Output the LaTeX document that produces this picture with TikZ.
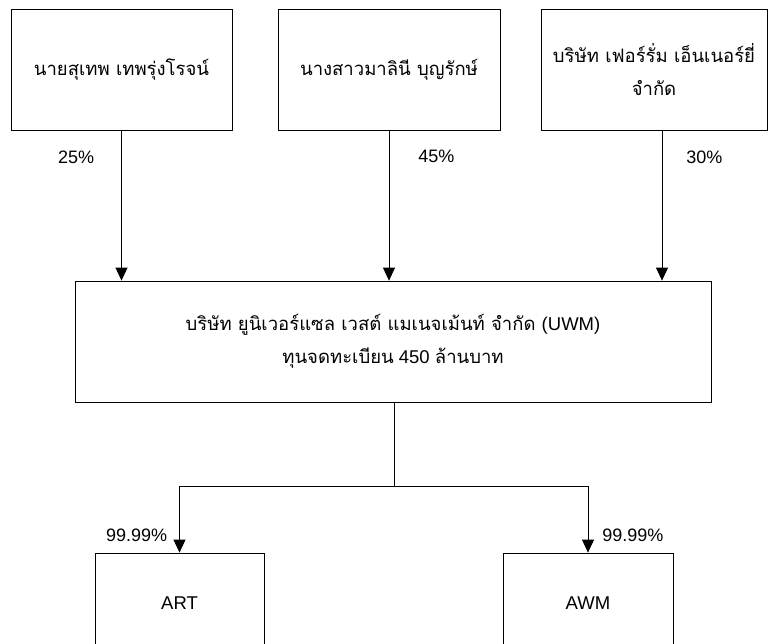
\documentclass[tikz,border=0pt]{standalone}
\usepackage{fontspec}
\setmainfont{Liberation Sans}
\newfontfamily\thai[Script=Thai]{Loma}
\usetikzlibrary{positioning, arrows.meta}

\tikzset{
  box/.style={draw, line width=0.8pt, inner sep=0pt, align=center,
    font=\fontsize{18.5}{33}\selectfont},
  pct/.style={font=\fontsize{18}{20}\selectfont, inner sep=0pt},
}

\begin{document}
\begin{tikzpicture}[x=1pt, y=-1pt, >={Triangle[length=13pt,width=12pt]}]
\useasboundingbox (0,0) rectangle (768,643);

\node[box, minimum width=221pt, minimum height=121pt] (p1) at (121.5,69.5) {\thai นายสุเทพ เทพรุ่งโรจน์};
\node[box, minimum width=222pt, minimum height=121pt] (p2) at (389,69.5) {\thai นางสาวมาลินี บุญรักษ์};
\node[box, minimum width=226pt, minimum height=121pt] (p3) at (654,69.5) {\thai บริษัท เฟอร์รั่ม เอ็นเนอร์ยี่\\\thai จำกัด};

\node[box, minimum width=636pt, minimum height=121pt] (uwm) at (393,341.5)
  {\thai บริษัท ยูนิเวอร์แซล เวสต์ แมเนจเม้นท์ จำกัด {\rmfamily(UWM)}\\
   {\thai ทุนจดทะเบียน} 450 {\thai ล้านบาท}};

\coordinate (fork) at (394,486);

\node[box, minimum width=169pt, minimum height=100pt] (art) at (179.5,603) {ART};
\node[box, minimum width=170pt, minimum height=100pt] (awm) at (588,603) {AWM};

\draw[line width=0.8pt]
    (p1.south) edge[->] node[pct, pos=0.18, left=27pt] {25\%} (p1.south |- uwm.north)
    (p2.south) edge[->] node[pct, pos=0.17, right=29pt] {45\%} (p2.south |- uwm.north)
    ([xshift=8pt]p3.south) edge[->] node[pct, pos=0.18, right=24pt] {30\%} ([xshift=8pt]p3.south |- uwm.north)
    (uwm.south -| fork) -- (fork)
    ;
\draw[line width=0.8pt, ->] (fork) -| (art.north) node[pct, pos=0.873, left=12pt] {99.99\%};
\draw[line width=0.8pt, ->] (fork) -| (awm.north) node[pct, pos=0.873, right=14pt] {99.99\%};
\end{tikzpicture}
\end{document}
